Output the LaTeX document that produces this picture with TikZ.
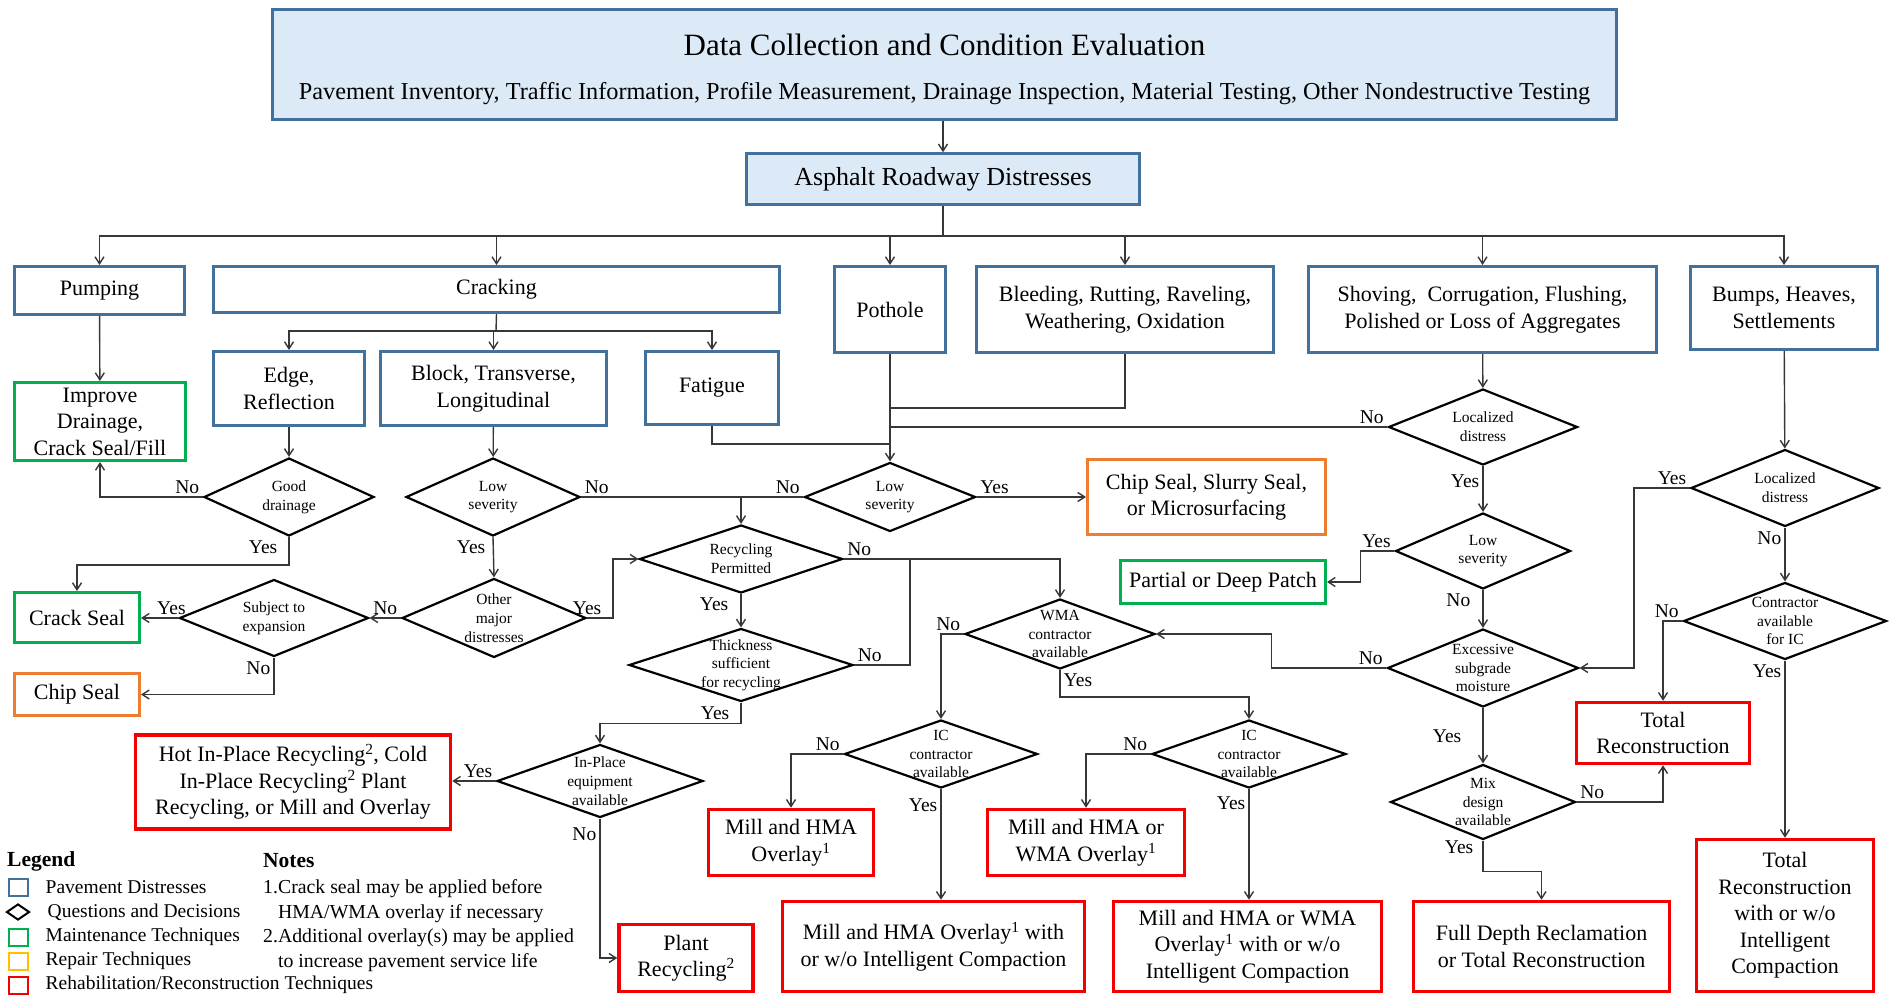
\documentclass[tikz,border=0pt]{standalone}
\usepackage{fontspec}
\setmainfont{Liberation Serif}
\usetikzlibrary{arrows.meta,positioning,shapes.geometric}

\definecolor{distblue}{RGB}{65,113,156}
\definecolor{headfill}{RGB}{220,233,246}
\definecolor{maintgreen}{RGB}{0,176,80}
\definecolor{repairorange}{RGB}{237,125,49}
\definecolor{repairyellow}{RGB}{255,192,0}
\definecolor{rehabred}{RGB}{245,0,0}
\definecolor{linegray}{RGB}{55,55,55}

\newcommand{\fsz}[2]{\fontsize{#1}{#2}\selectfont}

\tikzset{
  distress/.style={draw=distblue, line width=3pt, align=center, inner sep=2pt, font={\fsz{22}{26.5}}},
  headbox/.style={distress, fill=headfill, line width=2.5pt},
  maint/.style={distress, draw=maintgreen},
  repair/.style={distress, draw=repairorange},
  rehab/.style={distress, draw=rehabred, line width=3.5pt},
  question/.style={diamond, draw, line width=2.2pt, inner sep=0pt, label={[qtext]center:#1}},
  qtext/.style={align=center, inner sep=0pt, font={\fsz{15.5}{18.7}}},
  lbl/.style={font={\fsz{19.5}{22}}, inner sep=3pt},
  line/.style={draw=linegray, line width=1.4pt},
  conn/.style={line, -{Straight Barb[length=7pt,width=9pt]}},
  legicon/.style={draw, line width=2pt, minimum width=19pt, minimum height=17pt, inner sep=0pt},
  legtext/.style={font={\fsz{19.5}{23.4}}, inner sep=0pt, anchor=west}
}

\begin{document}
\begin{tikzpicture}[x=1pt, y=-1pt]
 \useasboundingbox (0,0) rectangle (1892,995);

 % evaluation and distress types
 \node[headbox, minimum width=1344pt, minimum height=110pt] (datacol) at (944.5,64.5)
  {\fsz{31}{36}\rule{0pt}{31pt}Data Collection and Condition Evaluation\\[17pt]\fsz{24.3}{28}Pavement Inventory, Traffic Information, Profile Measurement, Drainage Inspection, Material Testing, Other Nondestructive Testing};
 \node[headbox, minimum width=393pt, minimum height=51pt, font={\fsz{26}{30}}] (asphalt) at (943,179) {Asphalt Roadway Distresses};

 \node[distress, minimum width=170pt, minimum height=48pt] (pumping) at (99.5,290.5) {Pumping};
 \node[distress, minimum width=566pt, minimum height=46pt] (cracking) at (496.5,289.5) {Cracking};
 \node[distress, minimum width=111pt, minimum height=86pt] (pothole) at (890,309.5) {Pothole};
 \node[distress, minimum width=297pt, minimum height=86pt] (bleeding) at (1125,309.5) {Bleeding, Rutting, Raveling,\\Weathering, Oxidation};
 \node[distress, minimum width=348pt, minimum height=86pt] (shoving) at (1482.5,309.5) {Shoving,\ \ Corrugation, Flushing,\\Polished or Loss of Aggregates};
 \node[distress, minimum width=187pt, minimum height=83pt] (bumps) at (1784,308) {Bumps, Heaves,\\Settlements};

 \node[distress, minimum width=151pt, minimum height=74pt] (edge) at (289,388.5) {Edge,\\Reflection};
 \node[distress, minimum width=226pt, minimum height=74pt] (block) at (493.5,388.5) {Block, Transverse,\\Longitudinal};
 \node[distress, minimum width=133pt, minimum height=73pt] (fatigue) at (712,388) {Fatigue};

 % treatments
 \node[maint, minimum width=171pt, minimum height=78pt] (improve) at (100,421.5) {Improve\\Drainage,\\Crack Seal/Fill};
 \node[maint, minimum width=125pt, minimum height=50pt] (crackseal) at (77,617.5) {Crack Seal};
 \node[repair, minimum width=125pt, minimum height=42pt] (chipseal) at (77,694.5) {Chip Seal};
 \node[repair, minimum width=238pt, minimum height=75pt] (chipslurry) at (1206.5,497) {Chip Seal, Slurry Seal,\\or Microsurfacing};
 \node[maint, minimum width=205pt, minimum height=43pt] (partial) at (1223,582) {Partial or Deep Patch};
 \node[rehab, minimum width=315pt, minimum height=94pt] (hotinplace) at (293,782) {Hot In-Place Recycling\textsuperscript{2}, Cold\\In-Place Recycling\textsuperscript{2} Plant\\Recycling, or Mill and Overlay};
 \node[rehab, minimum width=165pt, minimum height=66pt] (millhma) at (791,842.5) {Mill and HMA\\Overlay\textsuperscript{1}};
 \node[rehab, minimum width=197pt, minimum height=66pt] (millwma) at (1086,842.5) {Mill and HMA or\\WMA Overlay\textsuperscript{1}};
 \node[rehab, minimum width=134pt, minimum height=67pt] (plant) at (686,958) {Plant\\Recycling\textsuperscript{2}};
 \node[rehab, minimum width=302pt, minimum height=90pt] (millhmaic) at (933.5,946.5) {Mill and HMA Overlay\textsuperscript{1} with\\or w/o Intelligent Compaction};
 \node[rehab, minimum width=268pt, minimum height=90pt] (millwmaic) at (1247.5,946.5) {Mill and HMA or WMA\\Overlay\textsuperscript{1} with or w/o\\Intelligent Compaction};
 \node[rehab, minimum width=256pt, minimum height=90pt] (fulldepth) at (1541.5,946.5) {Full Depth Reclamation\\or Total Reconstruction};
 \node[rehab, minimum width=173pt, minimum height=61pt] (totalrecon) at (1663,733) {Total\\Reconstruction};
 \node[rehab, minimum width=177pt, minimum height=152pt] (totalic) at (1785,915.5) {Total\\Reconstruction\\with or w/o\\Intelligent\\Compaction};

 % decisions
 \node[question={Good\\drainage}, minimum width=170pt, minimum height=78pt] (gooddrain) at (289,497) {};
 \node[question={Low\\severity}, minimum width=174pt, minimum height=78pt] (lowsevcrack) at (493,497) {};
 \node[question={Other\\major\\distresses}, minimum width=184pt, minimum height=79pt] (othermajor) at (494,618) {};
 \node[question={Subject to\\expansion}, minimum width=189pt, minimum height=77pt] (subjexp) at (274,618) {};
 \node[question={Low\\severity}, minimum width=171pt, minimum height=69pt] (lowsevpot) at (890,497) {};
 \node[question={Recycling\\Permitted}, minimum width=203pt, minimum height=68pt] (recperm) at (741,559) {};
 \node[question={Thickness\\sufficient\\for recycling}, minimum width=224pt, minimum height=73pt] (thick) at (741,665) {};
 \node[question={In-Place\\equipment\\available}, minimum width=206pt, minimum height=73pt] (inplace) at (600,781) {};
 \node[question={WMA\\contractor\\available}, minimum width=190pt, minimum height=70pt] (wma) at (1060,634) {};
 \node[question={IC\\contractor\\available}, minimum width=193pt, minimum height=68pt] (ichma) at (941,754) {};
 \node[question={IC\\contractor\\available}, minimum width=194pt, minimum height=68pt] (icwma) at (1249,754) {};
 \node[question={Localized\\distress}, minimum width=189pt, minimum height=76pt] (localshove) at (1483,427) {};
 \node[question={Low\\severity}, minimum width=175pt, minimum height=76pt] (lowsevshove) at (1483,551) {};
 \node[question={Excessive\\subgrade\\moisture}, minimum width=191pt, minimum height=78pt] (excess) at (1483,668) {};
 \node[question={Mix\\design\\available}, minimum width=185pt, minimum height=75pt] (mix) at (1483,802) {};
 \node[question={Localized\\distress}, minimum width=188pt, minimum height=77pt] (localbump) at (1785,488) {};
 \node[question={Contractor\\available\\for IC}, minimum width=203pt, minimum height=77pt] (contr) at (1785,621) {};

 % junction points
 \coordinate (bus) at (943,236);
 \coordinate (crackbus) at (496,331);
 \coordinate (bleedjoin) at (890,408);
 \coordinate (localjoin) at (890,427);
 \coordinate (fatjoin) at (890,444);

 % connectors
 \draw[conn] (asphalt.north |- datacol.south) -- (asphalt.north);
 \draw[line] (asphalt.south) -- (bus);
 \draw[line, line width=2.2pt] (pumping |- bus) -- (bumps |- bus);
 \foreach \n in {pumping,cracking,pothole,bleeding,shoving,bumps}
  \draw[conn] (bus) -| (\n);
 \draw[line] (cracking.south) -- (crackbus);
 \draw[line, line width=2pt] (edge |- crackbus) -- (fatigue |- crackbus);
 \foreach \n in {edge,block,fatigue}
  \draw[conn] (crackbus) -| (\n);

 \draw[conn] (pumping) -- (improve);
 \draw[conn] (edge) -- (gooddrain);
 \draw[conn] (block) -- (lowsevcrack);
 \draw[conn] (gooddrain.west) node[lbl, above left] {No} -| (improve.south);
 \draw[conn] (gooddrain.south) node[lbl, below left, xshift=-8pt] {Yes} -- ++(0,28) -| (crackseal.north);
 \draw[conn] (lowsevcrack.south) node[lbl, below left, xshift=-4pt] {Yes} -- (othermajor.north);
 \draw[conn] (othermajor.west) node[lbl, above left] {No} -- (subjexp.east);
 \draw[conn] (subjexp.west) node[lbl, above, xshift=-7pt] {Yes} -- (subjexp.west -| crackseal.east);
 \draw[conn] (subjexp.south) node[lbl, below left] {No} |- (chipseal.east);
 \draw[conn] (othermajor.east) node[lbl, above] {Yes} -- ++(26,0) |- (recperm.west);

 \draw[line] (lowsevcrack.east) node[lbl, above right] {No} -- (lowsevpot.west) node[lbl, above left] {No};
 \draw[conn] (recperm.north |- lowsevcrack.east) -- (recperm.north);
 \draw[line] (bleeding.south) |- (bleedjoin);
 \draw[line] (localshove.west) node[lbl, above left] {No} -- (localjoin);
 \draw[line] (fatigue.south) |- (fatjoin);
 \draw[conn] (pothole) -- (lowsevpot);
 \draw[conn] (lowsevpot.east) node[lbl, above right] {Yes} -- (chipslurry.west);

 \draw[conn] (recperm.east) node[lbl, above right] {No} -| (wma.north);
 \draw[conn] (recperm.south) node[lbl, below left, xshift=-9pt] {Yes} -- (thick.north);
 \draw[line] (thick.east) node[lbl, above right] {No} -- ++(56,0) |- (recperm.east);
 \draw[conn] (thick.south) node[lbl, below left, xshift=-8pt] {Yes} -- ++(0,21) -| (inplace.north);
 \draw[conn] (inplace.west) node[lbl, above left] {Yes} -- (inplace.west -| hotinplace.east);
 \draw[conn] (inplace.south) node[lbl, below left, yshift=-5pt] {No} |- (plant.west);

 \draw[conn] (wma.west) node[lbl, above left] {No} -| (ichma.north);
 \draw[conn] (wma.south) node[lbl, below right] {Yes} -- ++(0,27) -| (icwma.north);
 \draw[conn] (ichma.west) node[lbl, above left] {No} -| (millhma.north);
 \draw[conn] (ichma.south) node[lbl, below left, yshift=-6pt] {Yes} -- (ichma.south |- millhmaic.north);
 \draw[conn] (icwma.west) node[lbl, above left] {No} -| (millwma.north);
 \draw[conn] (icwma.south) node[lbl, below left, yshift=-4pt] {Yes} -- (icwma.south |- millwmaic.north);

 \draw[conn] (shoving) -- (localshove);
 \draw[conn] (localshove.south) node[lbl, below left, yshift=-5pt] {Yes} -- (lowsevshove.north);
 \draw[conn] (lowsevshove.west) node[lbl, above left] {Yes} -- ++(-34,0) |- (partial.east);
 \draw[conn] (lowsevshove.south) node[lbl, below left, xshift=-9pt] {No} -- (excess.north);
 \draw[conn] (excess.west) node[lbl, above left] {No} -- ++(-115,0) |- (wma.east);
 \draw[conn] (excess.south) -- node[lbl, left=18pt] {Yes} (mix.north);
 \draw[conn] (mix.east) node[lbl, above right] {No} -| (totalrecon.south);
 \draw[conn] (mix.south) node[lbl, below left, xshift=-6pt, yshift=4pt] {Yes} -- ++(0,31) -| (fulldepth.north);

 \draw[conn] (bumps) -- (localbump);
 \draw[conn] (localbump.west) node[lbl, above left] {Yes} -- ++(-56,0) |- (excess.east);
 \draw[conn] (localbump.south) node[lbl, below left] {No} -- (contr.north);
 \draw[conn] (contr.west) node[lbl, above left] {No} -| (totalrecon.north);
 \draw[conn] (contr.south) node[lbl, below left] {Yes} -- (totalic.north);

 % legend and notes
 \node[legtext, font={\fsz{21.5}{24}\bfseries}] (legend) at (7,861) {Legend};
 \node[legicon, draw=distblue] (lgdist) at (18,887) {};
 \node[legtext, right=17pt of lgdist] {Pavement Distresses};
 \node[diamond, draw, line width=2pt, minimum width=23pt, minimum height=16pt, inner sep=0pt] (lgquest) at (18,912) {};
 \node[legtext, right=17pt of lgquest] {Questions and Decisions};
 \node[legicon, draw=maintgreen] (lgmaint) at (18,937) {};
 \node[legtext, right=17pt of lgmaint] {Maintenance Techniques};
 \node[legicon, draw=repairyellow] (lgrepair) at (18,961) {};
 \node[legtext, right=17pt of lgrepair] {Repair Techniques};
 \node[legicon, draw=rehabred] (lgrehab) at (18,985) {};
 \node[legtext, right=17pt of lgrehab] {Rehabilitation/Reconstruction Techniques};

 \node[legtext, anchor=north west, align=left, font={\fsz{19.8}{24.5}}] (notes) at (263,853)
  {{\fsz{21.5}{24}\bfseries Notes}\\[2pt]1.Crack seal may be applied before\\\phantom{1.}HMA/WMA overlay if necessary\\2.Additional overlay(s) may be applied\\\phantom{2.}to increase pavement service life};

\end{tikzpicture}
\end{document}
